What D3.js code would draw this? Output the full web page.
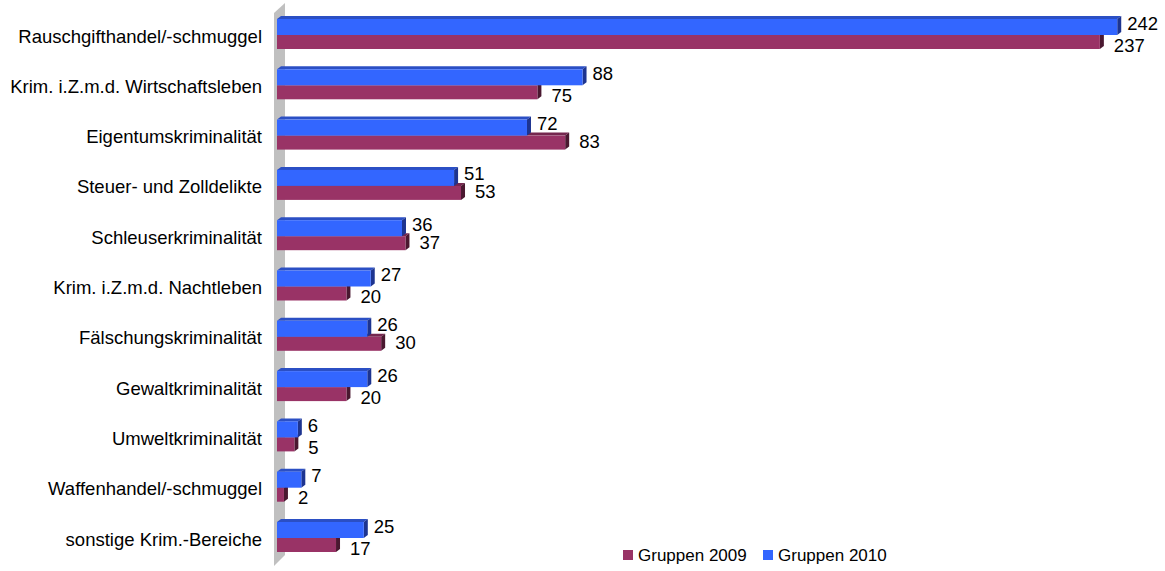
<!DOCTYPE html>
<html>
<head>
<meta charset="utf-8">
<script src="https://cdn.jsdelivr.net/npm/d3@7"></script>
<style>
  html, body { margin: 0; padding: 0; background: #fff; }
  svg { display: block; font-family: "Liberation Sans", Arial, sans-serif; }
</style>
</head>
<body>
<svg id="chart" width="1165" height="571"></svg>
<script>
const categories = [
  "Rauschgifthandel/-schmuggel",
  "Krim. i.Z.m.d. Wirtschaftsleben",
  "Eigentumskriminalität",
  "Steuer- und Zolldelikte",
  "Schleuserkriminalität",
  "Krim. i.Z.m.d. Nachtleben",
  "Fälschungskriminalität",
  "Gewaltkriminalität",
  "Umweltkriminalität",
  "Waffenhandel/-schmuggel",
  "sonstige Krim.-Bereiche"
];
const values2009 = [237, 75, 83, 53, 37, 20, 30, 20, 5, 2, 17];
const values2010 = [242, 88, 72, 51, 36, 27, 26, 26, 6, 7, 25];
const seriesNames = ["Gruppen 2009", "Gruppen 2010"];

const svg = d3.select("#chart");

const x = d3.scaleLinear().domain([0, 250]).range([277, 1145]);
const y = d3.scalePoint().domain(categories).range([35, 538]);

const DX = 4, DY = 3;
const colors = {
  "2009": { front: "#993366", top: "#75274f", side: "#4a1830" },
  "2010": { front: "#3366FF", top: "#2b4fc4", side: "#1d3490" }
};

// side wall
svg.append("polygon")
  .attr("points", [[274, 13], [285, 3], [285, 555], [274, 566]].map(p => p.join(",")).join(" "))
  .attr("fill", "#c0c0c0");

function drawBar(g, v, top, h, col) {
  const x0 = x(0), xe = x(v);
  g.append("polygon")
    .attr("points", [[x0, top], [x0 + DX, top - DY], [xe + DX, top - DY], [xe, top]].map(p => p.join(",")).join(" "))
    .attr("fill", col.top);
  g.append("polygon")
    .attr("points", [[xe, top], [xe + DX, top - DY], [xe + DX, top + h - DY], [xe, top + h]].map(p => p.join(",")).join(" "))
    .attr("fill", col.side);
  g.append("rect")
    .attr("x", x0).attr("y", top)
    .attr("width", xe - x0).attr("height", h)
    .attr("fill", col.front);
}

const bars = svg.append("g");
categories.forEach((c, i) => {
  const cy = y(c);
  const g = bars.append("g");
  drawBar(g, values2009[i], cy, 14, colors["2009"]);
  drawBar(g, values2010[i], cy - 16, 16, colors["2010"]);
});

// value labels
const labels = svg.append("g").attr("font-size", "18.5px").attr("fill", "#000");
categories.forEach((c, i) => {
  const cy = y(c);
  labels.append("text")
    .attr("x", x(values2010[i]) + 10)
    .attr("y", cy - 12)
    .attr("dominant-baseline", "central")
    .text(values2010[i]);
  labels.append("text")
    .attr("x", x(values2009[i]) + 14)
    .attr("y", cy + (values2009[i] > values2010[i] ? 6 : 10))
    .attr("dominant-baseline", "central")
    .text(values2009[i]);
});

// category labels
svg.append("g").attr("font-size", "18.5px").attr("fill", "#000")
  .selectAll("text").data(categories).join("text")
  .attr("x", 262)
  .attr("y", d => y(d) + 1)
  .attr("text-anchor", "end")
  .attr("dominant-baseline", "central")
  .text(d => d);

// legend
const legend = svg.append("g").attr("font-size", "17px").attr("fill", "#000");
const legendItems = [
  { name: seriesNames[0], color: colors["2009"].front, x: 623 },
  { name: seriesNames[1], color: colors["2010"].front, x: 763 }
];
legendItems.forEach(it => {
  legend.append("rect").attr("x", it.x).attr("y", 550).attr("width", 10).attr("height", 10).attr("fill", it.color);
  legend.append("text").attr("x", it.x + 15).attr("y", 555).attr("dominant-baseline", "central").text(it.name);
});
</script>
</body>
</html>
